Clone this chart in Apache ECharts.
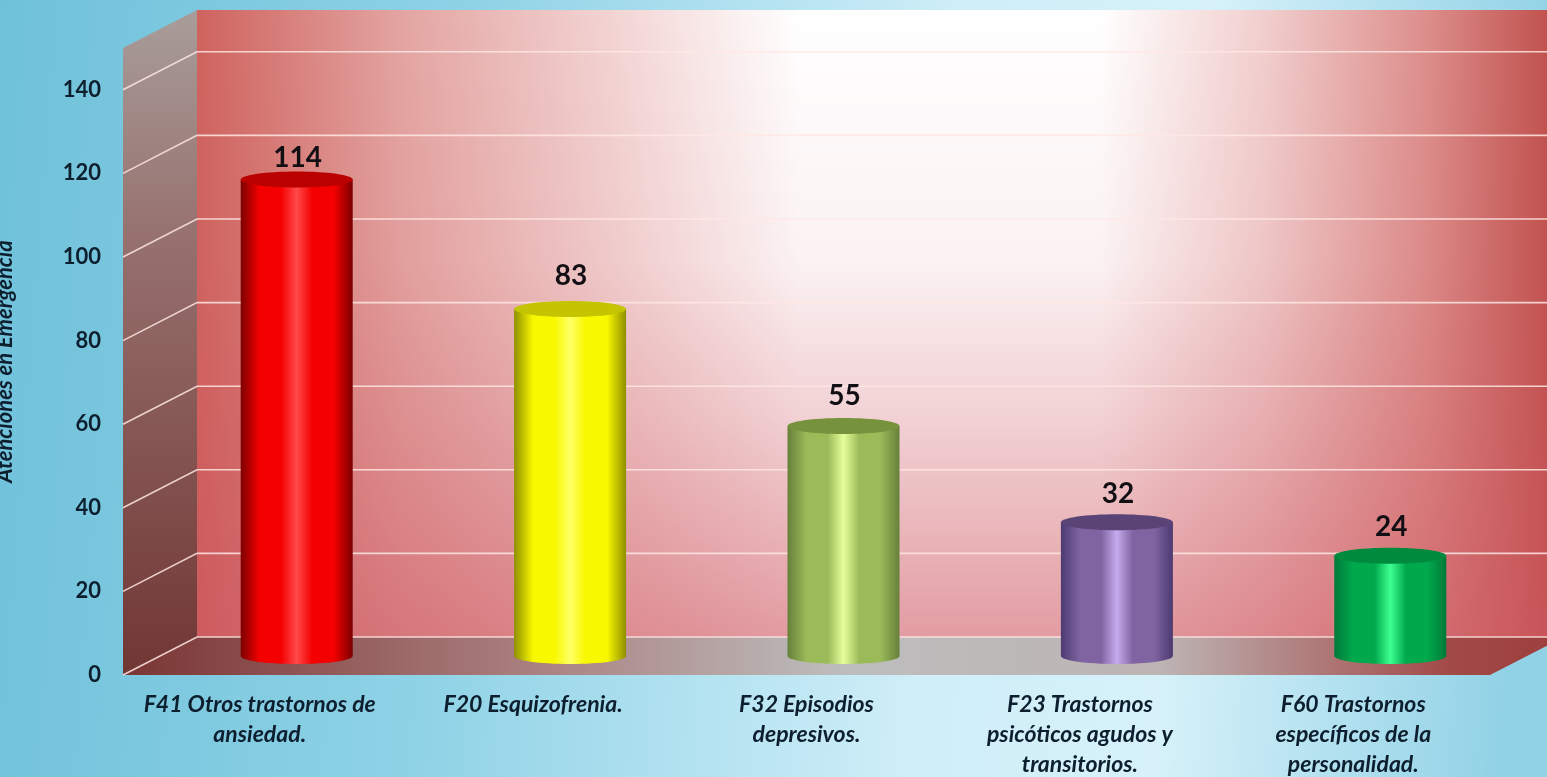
<!DOCTYPE html>
<html><head><meta charset="utf-8">
<style>html,body{margin:0;padding:0;background:#9ad7ea}#c{width:1547px;height:777px}</style>
<script src="https://cdn.jsdelivr.net/npm/echarts@6/dist/echarts.min.js"></script>
</head><body><div id="c"></div>
<script>
const categories = [
  "F41 Otros trastornos de\nansiedad.",
  "F20 Esquizofrenia.",
  "F32 Episodios\ndepresivos.",
  "F23 Trastornos\npsicóticos agudos y\ntransitorios.",
  "F60 Trastornos\nespecíficos de la\npersonalidad."
];
const values = [114, 83, 55, 32, 24];
const tickValues = [0, 20, 40, 60, 80, 100, 120, 140];
const axisMax = 150;
const axisName = "Atenciones en Emergencia";
// [edge, body, highlight, cap]
const palettes = [
  ["#7c0000", "#f40000", "#ff4a4a", "#bb0000"],
  ["#8f8f00", "#f8f800", "#ffff66", "#c4c400"],
  ["#66803a", "#9bbb59", "#e6ff9c", "#76923c"],
  ["#4c3a70", "#8064a2", "#c6abee", "#5a4476"],
  ["#007a38", "#00a94c", "#3dff90", "#008a3e"]
];
const labelGaps = [22, 33, 30, 28, 29];
const depthX = 74, depthY = 38, halfW = 56, capRy = 8;
const font = "Lato, 'Open Sans', sans-serif";
const ink = "#0d1f2e";
const Lin = (x, y, x2, y2, stops) => ({type: "linear", x, y, x2, y2, colorStops: stops.map(s => ({offset: s[0], color: s[1]}))});

const chart = echarts.init(document.getElementById("c"), null, {renderer: "canvas"});

function renderFrame(params, api) {
  const [, y0] = api.coord([0, 0]);
  const [, yT] = api.coord([0, axisMax]);
  const left = params.coordSys.x, right = left + params.coordSys.width;
  const wall = [[left + depthX, yT - depthY], [right + depthX, yT - depthY], [right + depthX, y0 - depthY], [left + depthX, y0 - depthY]];
  return {type: "group", silent: true, children: [
    {type: "polygon", shape: {points: wall},
     style: {fill: Lin(0, 0, 1, 0, [[0, "#cf635e"], [0.15, "#e3a5a2"], [0.3, "#f2d3d2"], [0.44, "#ffffff"], [0.66, "#ffffff"], [0.78, "#f1cfce"], [0.9, "#dc8e8b"], [1, "#bc4a46"]])}},
    {type: "polygon", shape: {points: wall},
     style: {fill: Lin(0, 0, 0, 1, [[0, "rgba(205,85,95,0)"], [0.4, "rgba(205,85,95,0.08)"], [0.65, "rgba(205,85,95,0.27)"], [1, "rgba(205,85,95,0.58)"]])}},
    {type: "polygon", shape: {points: [[left, yT], [left + depthX, yT - depthY], [left + depthX, y0 - depthY], [left, y0]]},
     style: {fill: Lin(0, 0, 0, 1, [[0, "#a89d9a"], [0.35, "#96706d"], [1, "#703634"]])}},
    {type: "polygon", shape: {points: [[left, y0], [left + depthX, y0 - depthY], [right + depthX, y0 - depthY], [right, y0]]},
     style: {fill: Lin(0, 0, 1, 0, [[0, "#7a3534"], [0.28, "#a97f7e"], [0.5, "#bdbdbd"], [0.72, "#bdb4b4"], [0.92, "#a24a48"], [1, "#9c3e3c"]])}}
  ]};
}

function renderGrid(params, api) {
  const left = params.coordSys.x, right = left + params.coordSys.width;
  const [, y] = api.coord([0, api.value(1)]);
  return {type: "polyline", silent: true,
    shape: {points: [[left, y], [left + depthX, y - depthY], [right + depthX, y - depthY]]},
    style: {stroke: "rgba(255,232,228,0.85)", lineWidth: 1.6, fill: null}};
}

function renderCylinder(params, api) {
  const i = api.value(0), v = api.value(1);
  const [cx0, yBase0] = api.coord([i, 0]);
  const [, yTop0] = api.coord([i, v]);
  const cx = cx0 + depthX / 2, yBase = yBase0 - depthY / 2, yTop = yTop0 - depthY / 2;
  const p = palettes[i];
  const body = Lin(0, 0, 1, 0, [[0, p[0]], [0.17, p[1]], [0.36, p[1]], [0.5, p[2]], [0.64, p[1]], [0.83, p[1]], [1, p[0]]]);
  return {type: "group", children: [
    {type: "ellipse", shape: {cx, cy: yBase, rx: halfW, ry: capRy}, style: {fill: body}},
    {type: "rect", shape: {x: cx - halfW, y: yTop, width: halfW * 2, height: yBase - yTop}, style: {fill: body}},
    {type: "ellipse", shape: {cx, cy: yTop, rx: halfW, ry: capRy}, style: {fill: p[3]}},
    {type: "text", x: cx + 1, y: yTop - labelGaps[i], style: {text: String(v), align: "center", verticalAlign: "middle", font: `bold 28px ${font}`, fill: "#120f14"}}
  ]};
}

chart.setOption({
  animation: false,
  backgroundColor: Lin(0, 0, 1, 0.15, [[0, "#6fc1da"], [0.3, "#8ed2e6"], [0.62, "#cfeef8"], [0.78, "#d6f1f9"], [1, "#92d2e6"]]),
  grid: {left: 123, top: 48, width: 1367, height: 627, outerBoundsMode: "none"},
  xAxis: {
    type: "category", data: categories,
    axisLine: {show: false}, axisTick: {show: false},
    axisLabel: {interval: 0, margin: 15, color: ink, fontFamily: font, fontSize: 23, fontStyle: "italic", fontWeight: "bold", lineHeight: 30}
  },
  yAxis: {
    type: "value", min: 0, max: axisMax, interval: 20,
    name: axisName, nameLocation: "middle", nameGap: 97,
    nameTextStyle: {color: ink, fontFamily: font, fontSize: 22, fontStyle: "italic", fontWeight: "bold", padding: [0, 0, 10, 0]},
    axisLine: {show: false}, axisTick: {show: false}, splitLine: {show: false},
    axisLabel: {margin: 22, color: ink, fontFamily: font, fontSize: 22, fontWeight: "bold", showMaxLabel: false}
  },
  series: [
    {type: "custom", name: "frame", coordinateSystem: "cartesian2d", z: 1, clip: false, renderItem: renderFrame, data: [[0, 0]], tooltip: {show: false}},
    {type: "custom", name: "grid", coordinateSystem: "cartesian2d", z: 2, clip: false, renderItem: renderGrid, data: tickValues.map(t => [0, t]), encode: {x: 0, y: 1}},
    {type: "custom", name: "Atenciones en Emergencia", coordinateSystem: "cartesian2d", z: 3, clip: false, renderItem: renderCylinder, data: values.map((v, i) => [i, v]), encode: {x: 0, y: 1}}
  ]
});
</script></body></html>
